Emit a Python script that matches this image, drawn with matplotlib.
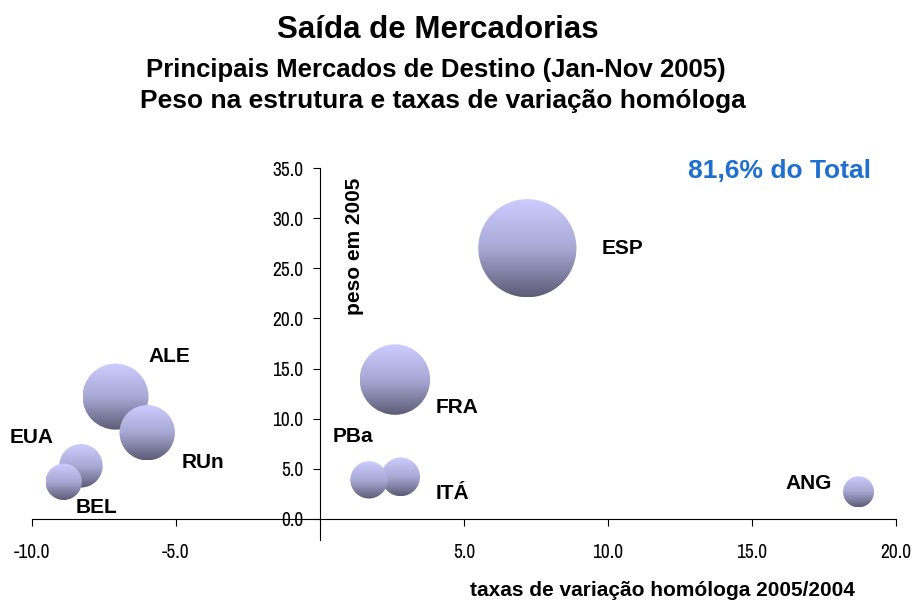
import numpy as np
import matplotlib
matplotlib.use("Agg")
import matplotlib.pyplot as plt
from matplotlib.patches import Ellipse
from matplotlib.colors import LinearSegmentedColormap

# dados: taxa de variação 2005/2004 (x), peso em 2005 (y)
mercados = ["ESP", "FRA", "ALE", "RUn", "EUA", "BEL", "PBa", "ITÁ", "ANG"]
taxas = [7.2, 2.6, -7.1, -6.0, -8.3, -8.9, 1.7, 2.8, 18.7]
peso = [27.0, 13.9, 12.2, 8.6, 5.3, 3.7, 3.9, 4.2, 2.7]

# deslocamento dos rótulos (pixels) relativamente ao centro da bolha
label_offsets = {"ESP": (95, 0), "FRA": (62, -28), "ALE": (54, 40),
                 "RUn": (56, -30), "EUA": (-49, 28), "BEL": (33, -26),
                 "PBa": (-16, 43), "ITÁ": (52, -17), "ANG": (-50, 8)}

plt.rcParams['font.family'] = ['Liberation Sans', 'DejaVu Sans']
narrow = ['Archivo Narrow', 'Liberation Sans', 'DejaVu Sans']

fig = plt.figure(figsize=(9.14, 6.08), dpi=100)
ax = fig.add_axes([32/914, 68/608, 864/914, 372/608])
ax.set_xlim(-10, 20)
ax.set_ylim(-2.1, 35)

ax.spines['left'].set_position(('data', 0))
ax.spines['bottom'].set_position(('data', 0))
ax.spines['top'].set_visible(False)
ax.spines['right'].set_visible(False)

xt = [-10, -5, 5, 10, 15, 20]
yt = np.arange(0, 36, 5)
ax.set_xticks(xt)
ax.set_xticklabels([f"{v:.1f}" for v in xt], family=narrow, fontsize=14)
ax.set_yticks(yt)
ax.set_yticklabels([f"{v:.1f}" for v in yt], family=narrow, fontsize=14)
ax.tick_params(axis='x', direction='out', length=5, pad=12)
ax.tick_params(axis='y', direction='out', length=5, pad=7)

# bolhas com gradiente vertical
cmap = LinearSegmentedColormap.from_list("bolha", ["#ccccff", "#a9a9d6", "#5c5c76"])
grad = np.linspace(0, 1, 256).reshape(-1, 1)
p0 = ax.transData.transform((0, 0))
p1 = ax.transData.transform((1, 1))
px_x = p1[0] - p0[0]
px_y = p1[1] - p0[1]
k = 9.45  # raio em pixels por sqrt(peso)

order = np.argsort(peso)[::-1]
for z, i in enumerate(order):
    r = k * np.sqrt(peso[i])
    w = r / px_x
    h = r / px_y
    x, y = taxas[i], peso[i]
    ell = Ellipse((x, y), 2*w, 2*h, transform=ax.transData, facecolor='none', edgecolor='none')
    ax.add_patch(ell)
    im = ax.imshow(grad, cmap=cmap, extent=(x - w, x + w, y - h, y + h),
                   aspect='auto', origin='upper', zorder=3 + z, interpolation='bilinear')
    im.set_clip_path(ell)

for i, m in enumerate(mercados):
    dx, dy = label_offsets[m]
    ax.annotate(m, (taxas[i], peso[i]), xytext=(dx, dy), textcoords='offset pixels',
                ha='center', va='center', fontsize=15, fontweight='bold', zorder=20)

ax.set_xlim(-10, 20)
ax.set_ylim(-2.1, 35)

fig.text(438/914, 1 - 38/608, "Saída de Mercadorias", ha='center', va='baseline',
         fontsize=22.5, fontweight='bold')
fig.text(436/914, 1 - 77/608, "Principais Mercados de Destino (Jan-Nov 2005)", ha='center',
         va='baseline', fontsize=18.5, fontweight='bold')
fig.text(443/914, 1 - 108/608, "Peso na estrutura e taxas de variação homóloga", ha='center',
         va='baseline', fontsize=19, fontweight='bold')

fig.text(780/914, 1 - 171/608, "81,6% do Total", ha='center', va='center',
         fontsize=19, fontweight='bold', color='#1f6fd0')
fig.text(355/914, 1 - 246/608, "peso em 2005", ha='center', va='center', rotation=90,
         fontsize=15, fontweight='bold')
fig.text(662/914, 1 - 590/608, "taxas de variação homóloga 2005/2004", ha='center',
         va='center', fontsize=15, fontweight='bold')

fig.savefig("out.png", dpi=100)
